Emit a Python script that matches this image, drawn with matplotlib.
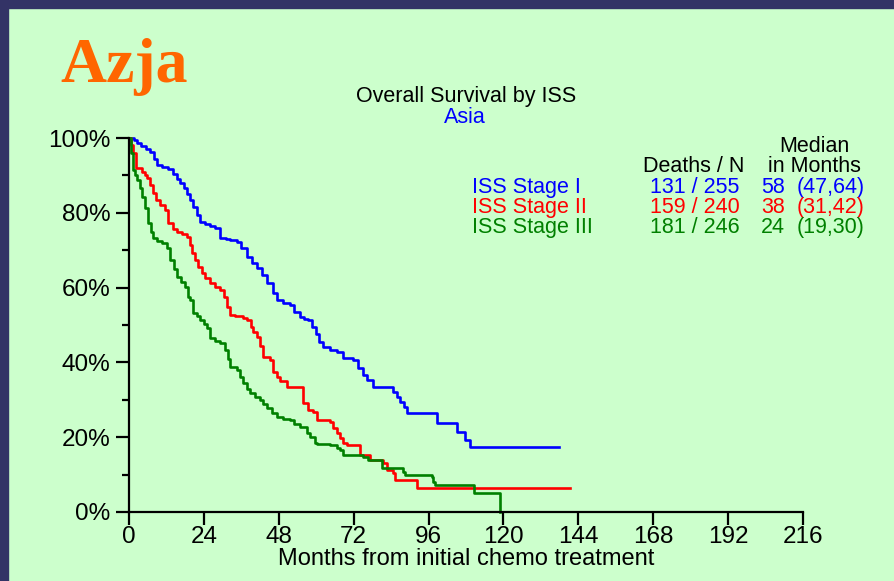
import matplotlib
matplotlib.use("Agg")
import matplotlib.pyplot as plt
from matplotlib.patches import Rectangle
from matplotlib.ticker import MultipleLocator

plt.rcParams['font.family'] = ['Liberation Sans', 'DejaVu Sans']

# Kaplan-Meier curves (months, % surviving)
t_stage1 = [0, 1.5, 2.6, 4, 5.5, 6.7, 8, 9, 10.5, 12.5, 14, 15.5, 16.3, 17.5, 18.5, 19.6, 20.5, 21.7,
            22.8, 24.5, 26, 27.6, 29.2, 31, 32.5, 34.6, 36, 37.8, 39.3, 41, 42.5, 44.2, 46, 47.4, 49.5,
            51.6, 53, 54.8, 56, 57.4, 58.5, 59.8, 61, 62.2, 64.5, 66.7, 68.5, 71.8, 73.5, 75, 76.3, 78.2,
            84.6, 85.9, 87, 88, 89, 98.6, 105, 107.7, 109.3, 137.8]
s_stage1 = [100, 99.5, 98.7, 97.8, 97, 96.3, 94.5, 92.8, 92.2, 91.7, 90.5, 89, 88, 86.5, 85, 83.4, 81.5, 79.5,
            77.5, 77, 76.5, 75.9, 73.3, 73, 72.6, 72.2, 70.5, 68.2, 66.6, 65.2, 63.5, 61.2, 58.5, 56.7, 56,
            55.3, 53.5, 52.1, 51.6, 51.3, 49.5, 47.5, 45.5, 44.1, 43.4, 42.8, 41.2, 40.6, 38.5, 36.5, 35.3, 33.4,
            32.2, 30.7, 29.5, 28, 26.4, 23.7, 21.4, 19.2, 17.3, 17.3]

t_stage2 = [0, 0.7, 1.3, 2.2, 4.2, 5, 5.8, 6.8, 7.7, 8.8, 9.9, 11.5, 12.5, 14, 15.4, 17, 18.6, 19.5,
            20.2, 21, 22.1, 23.5, 24.5, 26, 27.5, 29.2, 30.3, 31.4, 32.4, 34, 36.5, 37.8, 39, 39.7, 41,
            42, 43, 45.2, 46.2, 47.5, 48.5, 50.6, 55.8, 57.4, 59, 60.3, 64.4, 65.5, 66.7, 67.5, 68.6,
            70, 74, 77.2, 81.4, 82.7, 84.6, 85.3, 92.3, 141.3]
s_stage2 = [100, 98, 96, 92, 91, 90, 89.3, 87.5, 85.3, 83.5, 82, 80.7, 77.3, 75.8, 74.9, 74.2, 73.5, 71.5,
            69.3, 67.5, 65.5, 64, 62.5, 61.2, 60.2, 59.4, 57.5, 54.8, 52.7, 52.4, 51.8, 51.3, 49.5, 48.1, 46.8,
            44.5, 41.4, 40.6, 37.5, 36.2, 35, 33.4, 29.1, 27.3, 26.7, 24.6, 24.1, 22.5, 21.1, 19.8, 18.4,
            17.9, 15.2, 13.9, 13.1, 11.2, 10.4, 8.6, 6.5, 6.5]

t_stage3 = [0, 0.7, 1.3, 2, 2.6, 3.4, 4.2, 5.1, 6.1, 7, 7.7, 9, 10.6, 12.2, 13.1, 14.3, 15.4, 16.7,
            17.9, 18.9, 19.6, 20.5, 21.8, 22.8, 24, 25, 26, 27.5, 29.2, 30.8, 31.6, 32.4, 34.6, 35.5,
            36.5, 37.8, 38.8, 40.5, 42, 43, 44.2, 45.8, 47.4, 49.5, 51.6, 53, 54.8, 57, 58, 59.6, 60.3,
            64.4, 66.7, 67.6, 68.6, 75, 76.6, 81.1, 87.8, 88.5, 97.1, 97.5, 98.1, 110.6, 118.9]
s_stage3 = [100, 96, 91.4, 90, 88.8, 86.5, 84.2, 81.3, 77.3, 75, 73.3, 72.5, 71.9, 70.6, 67.4, 65, 62.8, 61.5,
            60.2, 57.5, 56.7, 53.2, 52.5, 51.3, 50.2, 49.2, 46.5, 45.8, 45.2, 43.3, 41, 38.8, 38, 36.2,
            34.5, 33, 31.8, 30.8, 29.9, 28.8, 27.8, 26.5, 25.4, 25, 24.6, 23.5, 22.7, 21.1, 20.1, 18.4, 18.2,
            17.9, 17.1, 16.5, 15.2, 14.7, 13.9, 11.8, 10.7, 9.9, 9.4, 8, 7.2, 5.1, 0]

labels = ['ISS Stage I', 'ISS Stage II', 'ISS Stage III']
deaths_n = ['131 / 255', '159 / 240', '181 / 246']
medians = ['58', '38', '24']
cis = ['(47,64)', '(31,42)', '(19,30)']
colors = ['#0000FF', '#FF0000', '#008000']

W, H = 894, 581


def fx(px):
    return px / W


def fy(py):
    return 1 - py / H


fig = plt.figure(figsize=(8.94, 5.81), dpi=100, facecolor='#CCFFCC')

# dark frame on the top and left edge
fig.patches.append(Rectangle((0, fy(8)), 1, 8 / H, transform=fig.transFigure, color='#333366', zorder=0))
fig.patches.append(Rectangle((0, 0), 8 / W, 1, transform=fig.transFigure, color='#333366', zorder=0))

ax = fig.add_axes([fx(129), fy(512), fx(803) - fx(129), (512 - 138) / H])
ax.set_facecolor('#CCFFCC')

for t, s, c in zip([t_stage1, t_stage2, t_stage3], [s_stage1, s_stage2, s_stage3], colors):
    ax.step(t, s, where='post', color=c, lw=1.9, clip_on=False)

ax.set_xlim(0, 216)
ax.set_ylim(0, 100)
ax.xaxis.set_major_locator(MultipleLocator(24))
ax.yaxis.set_minor_locator(MultipleLocator(10))
ax.set_yticks(range(0, 101, 20))
ax.set_yticklabels([f'{v}%' for v in range(0, 101, 20)])

for sp in ['top', 'right']:
    ax.spines[sp].set_visible(False)
for sp in ['left', 'bottom']:
    ax.spines[sp].set_linewidth(1.6)

ax.tick_params(axis='both', which='major', direction='out', length=9.5, width=1.6,
               labelsize=17.5, colors='black')
ax.tick_params(axis='y', which='major', pad=4)
ax.tick_params(axis='x', which='major', pad=0.5)
ax.tick_params(axis='y', which='minor', direction='out', length=5, width=1.6)

# header text
fig.text(fx(60), fy(82), 'Azja', family=['Liberation Serif'], fontweight='bold',
         fontsize=46, color='#FF6600', va='baseline', ha='left')
fig.text(fx(466), fy(102), 'Overall Survival by ISS', fontsize=15.5, ha='center', va='baseline')
fig.text(fx(465), fy(123), 'Asia', fontsize=15.5, ha='center', va='baseline', color='#0000FF')

# median table
fig.text(fx(694), fy(172), 'Deaths / N', fontsize=15.5, ha='center', va='baseline')
fig.text(fx(814), fy(152), 'Median', fontsize=15.5, ha='center', va='baseline')
fig.text(fx(814), fy(172), 'in Months', fontsize=15.5, ha='center', va='baseline')
rows_y = [193, 213, 233]
for i in range(3):
    y = fy(rows_y[i])
    fig.text(fx(472), y, labels[i], fontsize=15.5, color=colors[i], va='baseline')
    fig.text(fx(695), y, deaths_n[i], fontsize=15.5, color=colors[i], va='baseline', ha='center')
    fig.text(fx(773), y, medians[i], fontsize=15.5, color=colors[i], va='baseline', ha='center')
    fig.text(fx(831), y, cis[i], fontsize=15.5, color=colors[i], va='baseline', ha='center')

fig.text(fx(466), fy(565), 'Months from initial chemo treatment', fontsize=17, ha='center', va='baseline')

fig.savefig('out.png', dpi=100, facecolor=fig.get_facecolor())
